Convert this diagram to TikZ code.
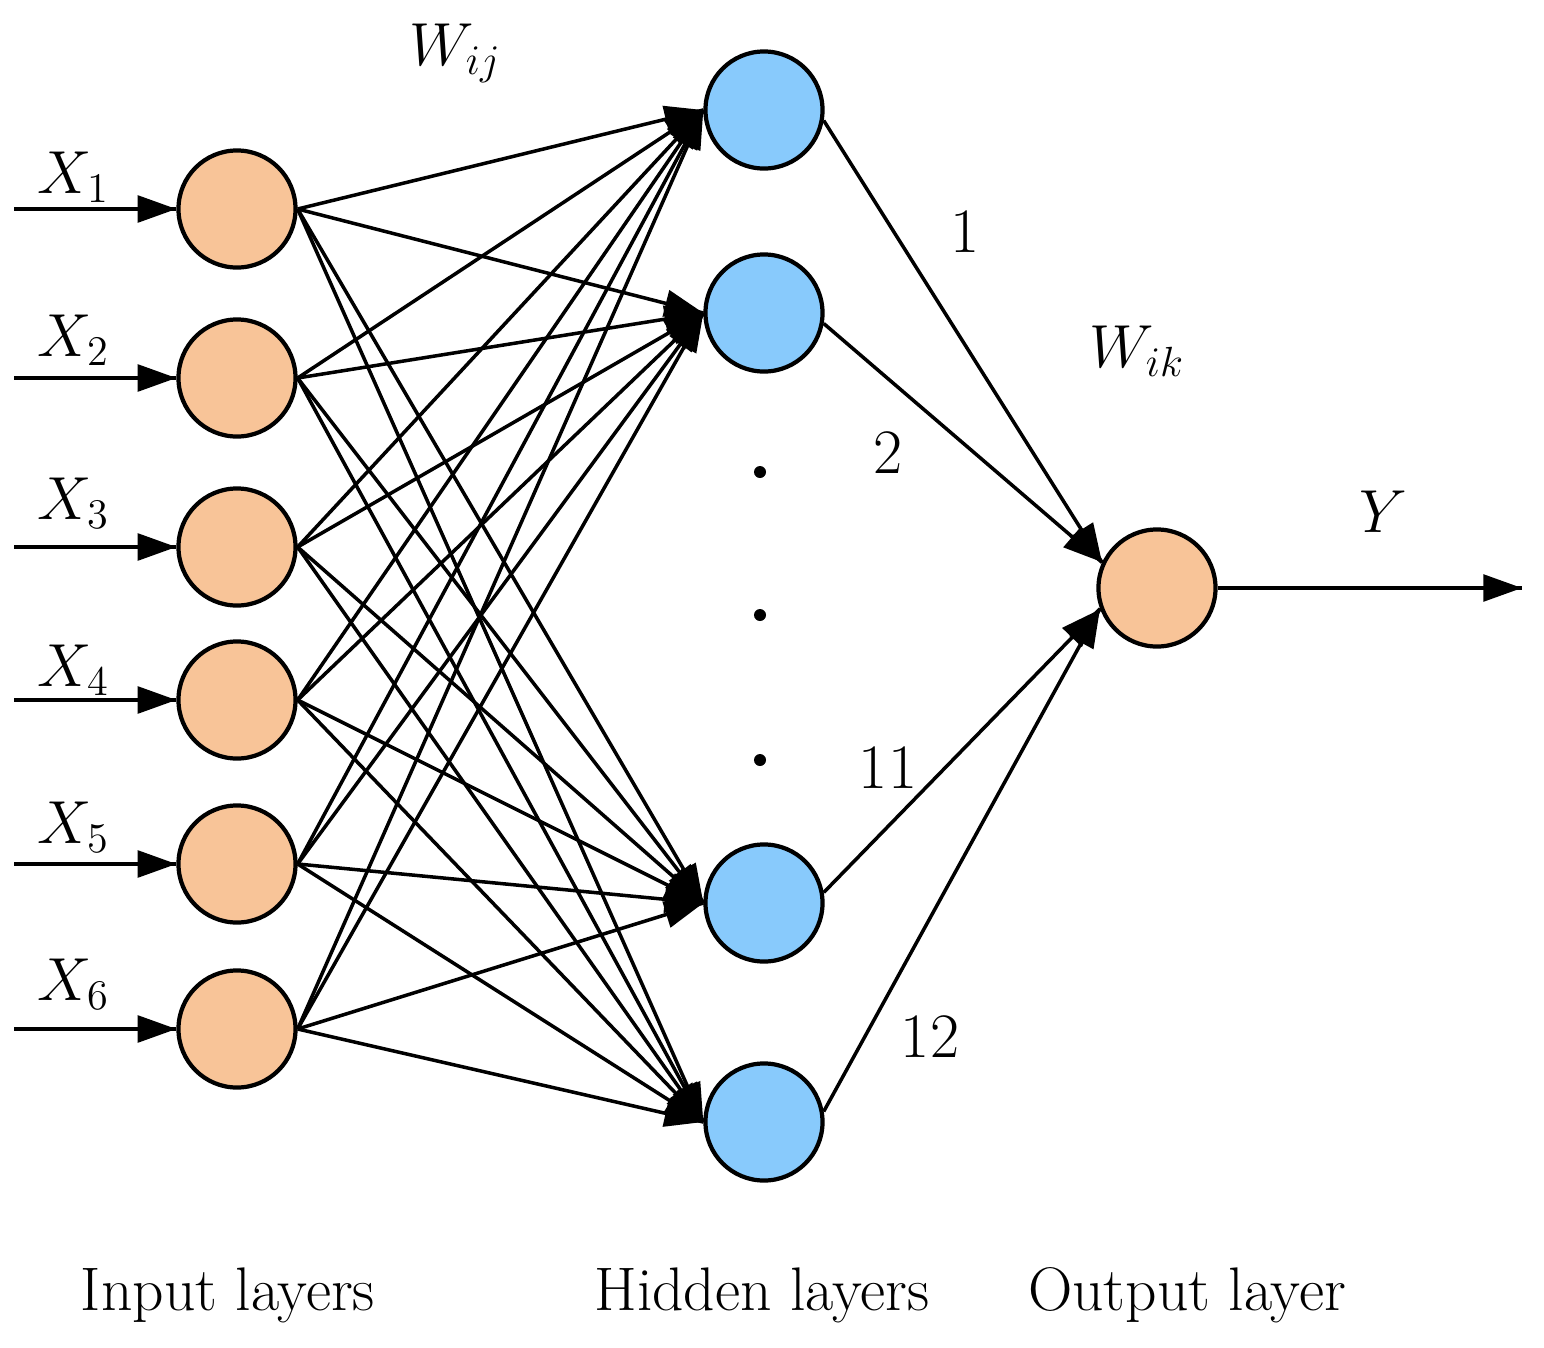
\documentclass[tikz,border=0pt]{standalone}
\usepackage{amsmath}
\usepackage{tikz}
\usetikzlibrary{arrows.meta}
\usetikzlibrary{decorations.markings}
\usetikzlibrary{positioning}
\definecolor{inputfill}{RGB}{248,196,152}
\definecolor{hiddenfill}{RGB}{136,202,252}
\tikzset{feed/.style = {decoration={markings,
                                    mark=at position 1 with {\arrow{Triangle[length=11pt, width=7.6pt]}}},
                        postaction={decorate}}}
\tikzset{neuron/.style = {circle, draw, line width=1.2pt, minimum size=1.17cm, inner sep=0pt}}
\tikzset{weight/.style = {font=\fontsize{17}{20}\selectfont, anchor=base, inner sep=0pt}}
\tikzset{layername/.style = {font=\fontsize{17.5}{21}\selectfont, anchor=base, inner sep=0pt}}
\tikzset{dotmark/.style = {circle, fill, minimum size=0.12cm, inner sep=0pt}}

\begin{document}
\begin{tikzpicture}[x=0.01cm, y=-0.01cm, line width=1pt]
    \useasboundingbox (0, 0) rectangle (1544, 1348);

    % input layer
    \foreach \i/\y/\b in {1/209/193, 2/378/356, 3/547/519, 4/700/686, 5/864/843, 6/1029/1000} {
      \node [neuron, fill=inputfill] (in\i) at (237, \y) {};
      \coordinate (x\i) at (14, \y);
      \draw [feed] (x\i) -- (in\i);
      \node [weight, anchor=base west] (xlabel\i) at (36, \b) {$X_\i$};
    }

    % hidden layer
    \foreach \j/\y in {1/110, 2/313, 3/903, 4/1122} {
      \node [neuron, fill=hiddenfill] (hid\j) at (764, \y) {};
    }
    \node [dotmark] (dot1) at (760, 472) {};
    \node [dotmark] (dot2) at (760, 615) {};
    \node [dotmark] (dot3) at (760, 760) {};

    \foreach \i in {1,...,6} {
      \foreach \j in {1,...,4} {
        \draw [feed] (in\i.east) -- (hid\j.west);
      }
    }

    % output layer
    \node [neuron, fill=inputfill] (out) at (1157, 588) {};
    \draw [feed] (hid1.-10) -- (out.155);
    \draw [feed] (hid2.-10) -- (out.155);
    \draw [feed] (hid3.10) -- (out.200);
    \draw [feed] (hid4.10) -- (out.200);
    \coordinate (y) at (1522, 588);
    \draw [feed] (out) -- (y);

    % labels
    \node [weight, anchor=base west] (wij) at (408, 65) {$W_{ij}$};
    \node [weight, anchor=base west] (wik) at (1088, 367) {$W_{ik}$};
    \node [weight, font=\fontsize{18}{21}\selectfont] (n1) at (965, 252) {1};
    \node [weight, font=\fontsize{18}{21}\selectfont] (n2) at (888, 473) {2};
    \node [weight, font=\fontsize{18}{21}\selectfont] (n11) at (888, 788) {11};
    \node [weight, font=\fontsize{18}{21}\selectfont] (n12) at (930, 1057) {12};
    \node [weight] (ylabel) at (1383, 532) {$Y$};

    \node [layername] (inname) at (228, 1310) {Input layers};
    \node [layername] (hidname) at (762, 1310) {Hidden layers};
    \node [layername] (outname) at (1187, 1310) {Output layer};
\end{tikzpicture}
\end{document}
